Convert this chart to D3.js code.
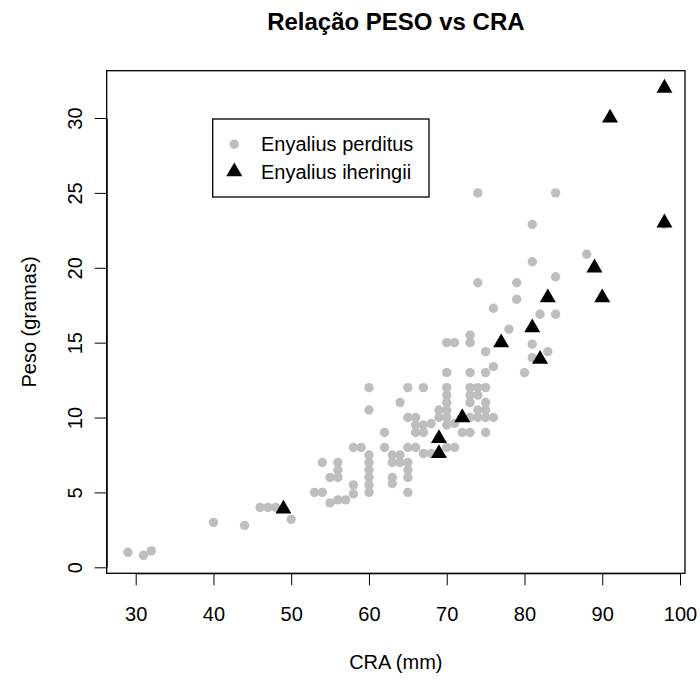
<!DOCTYPE html>
<html>
<head>
<meta charset="utf-8">
<script src="https://cdn.jsdelivr.net/npm/d3@7"></script>
<style>
  html, body { margin: 0; padding: 0; background: #fff; }
  svg { display: block; font-family: "Liberation Sans", Arial, Helvetica, sans-serif; }
</style>
</head>
<body>
<svg id="chart" width="700" height="684"></svg>
<script>
// ---- Data ----
const perditusCRA = [29,31,32,40,44,46,47,48,50,
  53,54,54,55,55,56,56,56,56,57,58,58,58,59,
  60,60,60,60,60,60,60,60,
  62,62,63,63,63,63,64,64,64,
  65,65,65,65,65,65,65,
  66,66,66,66,67,67,67,67,68,68,
  69,69,70,70,70,70,70,70,70,70,70,
  71,71,71,72,73,73,73,73,73,73,73,73,
  74,74,74,74,74,74,
  75,75,75,75,75,75,75,76,76,76,
  78,79,79,80,81,81,81,81,82,83,84,84,84,88,98];
const perditusPeso = [1,0.8,1.1,3,2.8,4,4,4,3.2,
  5,5,7,4.3,6,4.5,6,6.5,7,4.5,4.9,5.5,8,8,
  5,5.5,6,6.5,7,7.5,10.5,12,
  8,9,5.6,6,7,7.5,7,7.5,11,
  5,6,6.5,7,8,10,12,
  8,9,9.5,10,7.6,9,9.5,12,7.6,9.6,
  10,10.5,8,9.5,10,10.5,11,11.5,12,13,15,
  8,9.6,15,9,9,10,11,11.5,12,13,15,15.5,
  10,10.5,11.5,12,19,25,
  9,10,10.5,11,12,13,14.4,10,13.4,17.3,
  15.9,17.9,19,13,14,14.9,20.4,22.9,16.9,14.4,16.9,19.4,25,20.9,22.9];
const iheringiiCRA  = [49,69,69,72,77,81,82,83,89,90,91,98,98];
const iheringiiPeso = [3.9,8.6,7.6,10,15,16,13.9,18,20,18,30,32,23];
const xTicks = [30,40,50,60,70,80,90,100];
const yTicks = [0,5,10,15,20,25,30];
const seriesNames = ["Enyalius perditus", "Enyalius iheringii"];
const titleText = "Relação PESO vs CRA";
const xTitle = "CRA (mm)";
const yTitle = "Peso (gramas)";

// ---- Layout ----
const box = {left: 106.7, right: 685, top: 70.7, bottom: 573.3};
const x = d3.scaleLinear().domain([30, 100]).range([135.7, 680]);
const y = d3.scaleLinear().domain([0, 30]).range([567.3, 118]);
const gray = "#BEBEBE";
const triSize = 111;
const circR = 4.7;

const svg = d3.select("#chart");

// title
svg.append("text")
  .attr("x", (box.left + box.right) / 2).attr("y", 30)
  .attr("text-anchor", "middle").attr("font-size", 24).attr("font-weight", "bold")
  .text(titleText);

// x axis
const xAxis = svg.append("g").attr("transform", `translate(0,${box.bottom})`)
  .call(d3.axisBottom(x).tickValues(xTicks).tickSize(12).tickSizeOuter(0).tickFormat(d3.format("d")));
xAxis.select(".domain").attr("stroke", "#000");
xAxis.selectAll(".tick line").attr("stroke", "#000");
xAxis.selectAll(".tick text").attr("y", 48).attr("dy", null)
  .attr("font-size", 20).attr("font-family", "Liberation Sans, Arial, sans-serif").attr("fill", "#000");

// y axis
const yAxis = svg.append("g").attr("transform", `translate(${box.left},0)`)
  .call(d3.axisLeft(y).tickValues(yTicks).tickSize(12).tickSizeOuter(0).tickFormat(d3.format("d")));
yAxis.select(".domain").attr("stroke", "#000");
yAxis.selectAll(".tick line").attr("stroke", "#000");
yAxis.selectAll(".tick text")
  .attr("x", null).attr("dy", null)
  .attr("text-anchor", "middle")
  .attr("transform", "translate(-25,0) rotate(-90)")
  .attr("font-size", 20).attr("font-family", "Liberation Sans, Arial, sans-serif").attr("fill", "#000");

// axis titles
svg.append("text")
  .attr("x", (box.left + box.right) / 2).attr("y", 669)
  .attr("text-anchor", "middle").attr("font-size", 20).text(xTitle);
svg.append("text")
  .attr("transform", `translate(35.5,${(box.top + box.bottom) / 2}) rotate(-90)`)
  .attr("text-anchor", "middle").attr("font-size", 20).text(yTitle);

// points
const perd = perditusCRA.map((c, i) => ({c, p: perditusPeso[i]}));
const iher = iheringiiCRA.map((c, i) => ({c, p: iheringiiPeso[i]}));

svg.append("g").selectAll("circle").data(perd).join("circle")
  .attr("cx", d => x(d.c)).attr("cy", d => y(d.p)).attr("r", circR).attr("fill", gray);

const tri = d3.symbol().type(d3.symbolTriangle).size(triSize);
svg.append("g").selectAll("path").data(iher).join("path")
  .attr("d", tri).attr("transform", d => `translate(${x(d.c)},${y(d.p)})`).attr("fill", "#000");

// box
svg.append("rect")
  .attr("x", box.left).attr("y", box.top)
  .attr("width", box.right - box.left).attr("height", box.bottom - box.top)
  .attr("fill", "none").attr("stroke", "#000").attr("stroke-width", 1.3);

// legend
const lg = svg.append("g");
lg.append("rect").attr("x", 212.7).attr("y", 119).attr("width", 216.3).attr("height", 78)
  .attr("fill", "#fff").attr("stroke", "#000").attr("stroke-width", 1.3);
lg.append("circle").attr("cx", 234.3).attr("cy", 144.3).attr("r", circR).attr("fill", gray);
lg.append("path").attr("d", tri).attr("transform", "translate(234.3,171.7)").attr("fill", "#000");
seriesNames.forEach((n, i) => {
  lg.append("text").attr("x", 261).attr("y", 151.3 + i * 27.4)
    .attr("font-size", 20).text(n);
});
</script>
</body>
</html>
